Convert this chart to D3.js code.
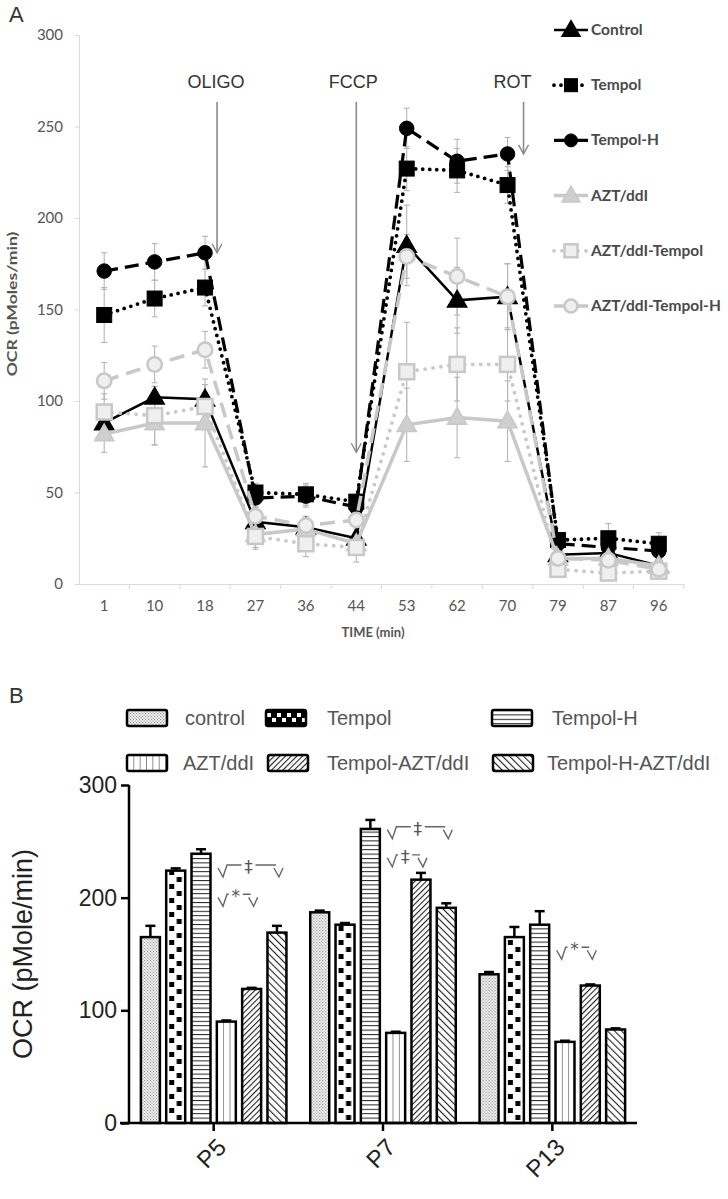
<!DOCTYPE html>
<html><head><meta charset="utf-8">
<script src="https://cdn.jsdelivr.net/npm/d3@7"></script>
<style>body{margin:0;background:#fff}svg{display:block}</style>
</head><body>
<svg id="c" width="728" height="1199"></svg>
<script>
// ---------- Panel A data ----------
const times = ["1","10","18","27","36","44","53","62","70","79","87","96"];
const seriesA = ["Control","Tempol","Tempol-H","AZT/ddI","AZT/ddI-Tempol","AZT/ddI-Tempol-H"];
const controlA      = [88,102,101,34,31,25,185,155,157,16,17,10];
const tempolA       = [147,156,162,50,49,45,227,226,218,24,25,22];
const tempolHA      = [171,176,181,47,48,42,249,231,235,22,20,18];
const aztA          = [82,88,88,27,30,22,87,91,89,14,14,10];
const aztTempolA    = [94,92,97,26,22,20,116,120,120,8,6,7];
const aztTempolHA   = [111,120,128,37,32,35,179,168,157,14,13,8];
const controlErrA   = [5,6,8,4,4,3,22,18,18,4,4,3];
const tempolErrA    = [15,10,10,5,6,4,12,12,10,4,8,6];
const tempolHErrA   = [10,10,9,5,6,4,11,12,9,4,5,4];
const aztErrA       = [10,12,24,8,6,5,20,22,22,4,4,3];
const aztTempolErrA = [10,16,12,6,7,8,27,20,20,3,3,3];
const aztTempolHErrA= [10,10,10,5,5,5,12,21,18,4,4,3];
const yTicksA = [0,50,100,150,200,250,300];
const injections = ["OLIGO","FCCP","ROT"];
const injectionTimes = ["18","44","70"];
const injectionTips = [181,72,235];

// ---------- Panel B data ----------
const groups = ["P5","P7","P13"];
const seriesB = ["control","Tempol","Tempol-H","AZT/ddI","Tempol-AZT/ddI","Tempol-H-AZT/ddI"];
const controlB     = [165,187,132];
const tempolB      = [224,176,165];
const tempolHB     = [239,261,176];
const aztB         = [90,80,72];
const tempolAztB   = [119,216,122];
const tempolHAztB  = [169,191,83];
const controlErrB    = [10,1.5,2];
const tempolErrB     = [2,1.5,9];
const tempolHErrB    = [4,8,12];
const aztErrB        = [1,1,1];
const tempolAztErrB  = [1,6,1];
const tempolHAztErrB = [6,4,1];
const yTicksB = [0,100,200,300];
const sigGroups = ["P5","P5","P7","P7","P13"];
const sigFrom   = ["Tempol-H","Tempol-H","Tempol-H","Tempol-H","Tempol-H"];
const sigTo     = ["Tempol-H-AZT/ddI","Tempol-AZT/ddI","Tempol-H-AZT/ddI","Tempol-AZT/ddI","Tempol-AZT/ddI"];
const sigLevel  = [229,203,263,238,156];
const sigSymbol = ["‡","*","‡","‡","*"];

const svg = d3.select("#c");
const defs = svg.append("defs");

// ================= PANEL A =================
const valsA = [controlA,tempolA,tempolHA,aztA,aztTempolA,aztTempolHA];
const errsA = [controlErrA,tempolErrA,tempolHErrA,aztErrA,aztTempolErrA,aztTempolHErrA];
const styleA = [
  {color:"#000", dash:null, w:2.5, shape:"tri", fill:"#000"},
  {color:"#000", dash:"0,7", w:3.8, shape:"sq", fill:"#000"},
  {color:"#000", dash:"14,7", w:3.2, shape:"circ", fill:"#000"},
  {color:"#c8c8c8", dash:null, w:3.5, shape:"tri", fill:"#cfcfcf"},
  {color:"#c8c8c8", dash:"0,8", w:3.8, shape:"sq", fill:"#efefef"},
  {color:"#c8c8c8", dash:"15,8", w:3.5, shape:"circ", fill:"#efefef"}
];
const xA = d3.scaleBand().domain(times).range([79,684]);
const yA = d3.scaleLinear().domain([0,300]).range([584,35]);
const cx = t => xA(t) + xA.bandwidth()/2;

svg.append("text").attr("x",9).attr("y",22).text("A")
  .attr("font-family","Liberation Sans").attr("font-size",22).attr("fill","#333");

// y axis
const gyA = svg.append("g").attr("transform","translate(79,0)")
  .call(d3.axisLeft(yA).tickValues(yTicksA).tickSize(4).tickPadding(12));
gyA.select(".domain").attr("stroke","#d9d9d9");
gyA.selectAll(".tick line").attr("stroke","#d9d9d9");
gyA.selectAll("text").attr("font-family","Lato").attr("font-size",15).attr("fill","#555");

// x axis
const gxA = svg.append("g").attr("transform","translate(0,584)")
  .call(d3.axisBottom(xA).tickSize(0).tickPadding(16));
gxA.select(".domain").attr("stroke","#d9d9d9");
gxA.selectAll("text").attr("font-family","Lato").attr("font-size",15).attr("fill","#555");
svg.append("g").selectAll("line").data(times.slice(1).concat(["end"])).join("line")
  .attr("x1",d=> d==="end"?684:xA(d)).attr("x2",d=> d==="end"?684:xA(d))
  .attr("y1",584).attr("y2",589).attr("stroke","#d9d9d9");

svg.append("text").attr("x",373).attr("y",637).attr("text-anchor","middle")
  .text("TIME (min)").attr("font-family","Lato").attr("font-weight","bold")
  .attr("font-size",13).attr("fill","#555");
svg.append("text").attr("transform","translate(17,304) rotate(-90) scale(1.3,1)").attr("text-anchor","middle")
  .text("OCR (pMoles/min)").attr("font-family","Lato").attr("font-weight","bold")
  .attr("font-size",13.5).attr("fill","#555");

// injection arrows
const injDx = [12,0,16], injTx = [-1,-3,-11];
injections.forEach((name,i)=>{
  const x = cx(injectionTimes[i]) + injDx[i];
  const yt = yA(injectionTips[i]);
  svg.append("line").attr("x1",x).attr("x2",x).attr("y1",102).attr("y2",yt)
    .attr("stroke","#8a8a8a").attr("stroke-width",1.6);
  svg.append("path").attr("d",`M${x-5},${yt-9} L${x},${yt} L${x+5},${yt-9}`)
    .attr("fill","none").attr("stroke","#8a8a8a").attr("stroke-width",1.4);
  svg.append("text").attr("x",x+injTx[i]).attr("y",88).attr("text-anchor","middle").text(name)
    .attr("font-family","Liberation Sans").attr("font-size",18).attr("fill","#333");
});

// error bars
const gErr = svg.append("g");
valsA.forEach((vals,si)=>{
  vals.forEach((v,i)=>{
    const x = cx(times[i]), e = errsA[si][i];
    gErr.append("line").attr("x1",x).attr("x2",x).attr("y1",yA(v-e)).attr("y2",yA(v+e))
      .attr("stroke","#b5b5b5").attr("stroke-width",1.1);
    [v-e,v+e].forEach(b=> gErr.append("line").attr("x1",x-3).attr("x2",x+3)
      .attr("y1",yA(b)).attr("y2",yA(b)).attr("stroke","#b5b5b5").attr("stroke-width",1.1));
  });
});

function marker(g, shape, x, y, st, s){
  if(shape==="tri"){
    g.append("path").attr("d",`M${x},${y-s*0.62} L${x+s*0.6},${y+s*0.42} L${x-s*0.6},${y+s*0.42} Z`)
      .attr("fill",st.fill).attr("stroke",st.color).attr("stroke-width",1.5);
  } else if(shape==="sq"){
    g.append("rect").attr("x",x-s/2).attr("y",y-s/2).attr("width",s).attr("height",s)
      .attr("fill",st.fill).attr("stroke",st.color).attr("stroke-width",st.color==="#000"?1:2.5);
  } else {
    g.append("circle").attr("cx",x).attr("cy",y).attr("r",s/2)
      .attr("fill",st.fill).attr("stroke",st.color).attr("stroke-width",st.color==="#000"?1:2.5);
  }
}
const mSize = {tri:16, sq:15, circ:14.5};

const line = d3.line().x((d,i)=>cx(times[i])).y(d=>yA(d));
const gLines = svg.append("g");
valsA.forEach((vals,si)=>{
  const st = styleA[si];
  const g = gLines.append("g");
  g.append("path").attr("d",line(vals)).attr("fill","none").attr("stroke",st.color)
    .attr("stroke-width",st.w).attr("stroke-dasharray",st.dash)
    .attr("stroke-linecap",st.dash && st.dash.startsWith("0")?"round":"butt");
  vals.forEach((v,i)=> marker(g, st.shape, cx(times[i]), yA(v), st, mSize[st.shape]));
});

// legend A
const legA = svg.append("g");
seriesA.forEach((name,i)=>{
  const y = 30 + i*55.2, st = styleA[i];
  legA.append("line").attr("x1",554).attr("x2",588).attr("y1",y).attr("y2",y)
    .attr("stroke",st.color).attr("stroke-width",st.w).attr("stroke-dasharray",st.dash)
    .attr("stroke-linecap",st.dash && st.dash.startsWith("0")?"round":"butt");
  marker(legA, st.shape, 571, y, st, st.shape==="tri"?15:13);
  legA.append("text").attr("x",591).attr("y",y+5).text(name)
    .attr("font-family","Lato").attr("font-weight","bold").attr("font-size",15.5).attr("fill","#4a4a4a");
});

// ================= PANEL B =================
const valsB = [controlB,tempolB,tempolHB,aztB,tempolAztB,tempolHAztB];
const errsB = [controlErrB,tempolErrB,tempolHErrB,aztErrB,tempolAztErrB,tempolHAztErrB];
const x0 = d3.scaleBand().domain(groups).range([129,637]);
const x1 = d3.scaleBand().domain(seriesB).range([0,x0.bandwidth()]).paddingInner(0.25).paddingOuter(0.47);
const yB = d3.scaleLinear().domain([0,300]).range([1123,785]);

let patN = 0;
function pattern(si, px, py, legend){
  const id = "p"+(patN++);
  const p = defs.append("pattern").attr("id",id).attr("patternUnits","userSpaceOnUse");
  if(si===0){
    p.attr("x",px).attr("y",py).attr("width",3).attr("height",3);
    p.append("rect").attr("width",3).attr("height",3).attr("fill","#fff");
    p.append("rect").attr("width",1.2).attr("height",1.2).attr("fill","#8a8a8a");
    p.append("rect").attr("x",1.5).attr("y",1.5).attr("width",1.2).attr("height",1.2).attr("fill","#8a8a8a");
  } else if(si===1 && legend){
    p.attr("x",px).attr("y",py).attr("width",10).attr("height",16);
    p.append("rect").attr("width",10).attr("height",16).attr("fill","#000");
    p.append("rect").attr("x",1).attr("y",3).attr("width",4).attr("height",4).attr("fill","#fff");
    p.append("rect").attr("x",6).attr("y",8).attr("width",4).attr("height",4).attr("fill","#fff");
  } else if(si===1){
    p.attr("x",px).attr("y",py).attr("width",19).attr("height",14);
    p.append("rect").attr("width",19).attr("height",14).attr("fill","#fff");
    p.append("rect").attr("x",3).attr("y",2).attr("width",5).attr("height",5).attr("fill","#000");
    p.append("rect").attr("x",10.5).attr("y",9).attr("width",5).attr("height",5).attr("fill","#000");
  } else if(si===2){
    p.attr("x",px).attr("y",py).attr("width",10).attr("height",4.4);
    p.append("rect").attr("width",10).attr("height",4.4).attr("fill","#fff");
    p.append("rect").attr("y",0).attr("width",10).attr("height",1).attr("fill","#222");
  } else if(si===3){
    p.attr("x",px).attr("y",py).attr("width",6.35).attr("height",10);
    p.append("rect").attr("width",6.35).attr("height",10).attr("fill","#fff");
    p.append("rect").attr("x",-0.5).attr("width",1).attr("height",10).attr("fill","#222");
  } else if(si===4){
    p.attr("width",4).attr("height",4).attr("patternTransform","rotate(45)");
    p.append("rect").attr("width",4).attr("height",4).attr("fill","#fff");
    p.append("rect").attr("width",1.1).attr("height",4).attr("fill","#222");
  } else {
    p.attr("width",5).attr("height",5).attr("patternTransform","rotate(-45)");
    p.append("rect").attr("width",5).attr("height",5).attr("fill","#fff");
    p.append("rect").attr("width",1.1).attr("height",5).attr("fill","#222");
  }
  return "url(#"+id+")";
}

svg.append("text").attr("x",9).attr("y",703).text("B")
  .attr("font-family","Liberation Sans").attr("font-size",22).attr("fill","#333");

// legend B
const legPos = [[127,185,718],[266,327,718],[492,552,718],[127,183,763],[268,327,763],[493,547,763]];
seriesB.forEach((name,i)=>{
  const [sx,tx,y] = legPos[i];
  svg.append("rect").attr("x",sx).attr("y",y-8).attr("width",40).attr("height",16).attr("rx",2)
    .attr("fill",pattern(i,sx,y-8,true)).attr("stroke","#000").attr("stroke-width",2.5);
  svg.append("text").attr("x",tx).attr("y",y+7).text(name)
    .attr("font-family","Liberation Sans").attr("font-size",20).attr("fill","#555");
});

// bars
const gBars = svg.append("g");
groups.forEach((grp,gi)=>{
  seriesB.forEach((s,si)=>{
    const v = valsB[si][gi], e = errsB[si][gi];
    const bx = x0(grp)+x1(s), bw = x1.bandwidth(), c = bx+bw/2;
    gBars.append("line").attr("x1",c).attr("x2",c).attr("y1",yB(v)).attr("y2",yB(v+e))
      .attr("stroke","#000").attr("stroke-width",2.5);
    gBars.append("line").attr("x1",c-5).attr("x2",c+5).attr("y1",yB(v+e)).attr("y2",yB(v+e))
      .attr("stroke","#000").attr("stroke-width",2.5);
    gBars.append("rect").attr("x",bx).attr("y",yB(v)).attr("width",bw).attr("height",yB(0)-yB(v))
      .attr("fill",pattern(si,bx,0,false)).attr("stroke","#000").attr("stroke-width",2.5);
  });
});

// axes B
const gyB = svg.append("g").attr("transform","translate(129,0)")
  .call(d3.axisLeft(yB).tickValues(yTicksB).tickSize(8).tickPadding(4));
gyB.selectAll(".domain,.tick line").attr("stroke","#000").attr("stroke-width",2.5);
gyB.select(".domain").attr("d","M0,1123V785");
gyB.selectAll("text").attr("font-family","Liberation Sans").attr("font-size",23).attr("fill","#222");

const gxB = svg.append("g").attr("transform","translate(0,1123)")
  .call(d3.axisBottom(x0).tickSize(8).tickPadding(6));
gxB.selectAll(".domain,.tick line").attr("stroke","#000").attr("stroke-width",2.5);
gxB.select(".domain").attr("d","M120,0H637");
gxB.selectAll("text").attr("font-family","Liberation Sans").attr("font-size",24).attr("fill","#222")
  .attr("text-anchor","end").attr("dy",0).attr("transform","translate(4,16) rotate(-45)");

svg.append("text").attr("transform","translate(32,954) rotate(-90)").attr("text-anchor","middle")
  .text("OCR (pMole/min)").attr("font-family","Liberation Sans").attr("font-size",27).attr("fill","#222");

// significance brackets
const gSig = svg.append("g").attr("stroke","#666").attr("stroke-width",1.4).attr("fill","none");
sigGroups.forEach((grp,i)=>{
  const xs = x0(grp)+x1(sigFrom[i])+x1.bandwidth()/2 + 17;
  const xe = x0(grp)+x1(sigTo[i])+x1.bandwidth()/2 + 6;
  const y = yB(sigLevel[i]);
  const mid = (xs+xe)/2 - 2, gap = 7;
  gSig.append("path").attr("d",`M${xs},${y+3} L${xs+5},${y+12} L${xs+9},${y} L${mid-gap},${y}`);
  gSig.append("path").attr("d",`M${mid+gap},${y} L${xe-7},${y} M${xe-9},${y+3} L${xe-4},${y+12} L${xe},${y+3}`);
  svg.append("text").attr("x",mid).attr("y",y+8).attr("text-anchor","middle").text(sigSymbol[i])
    .attr("font-family","DejaVu Sans").attr("font-size",17).attr("fill","#555");
});
</script>
</body></html>
